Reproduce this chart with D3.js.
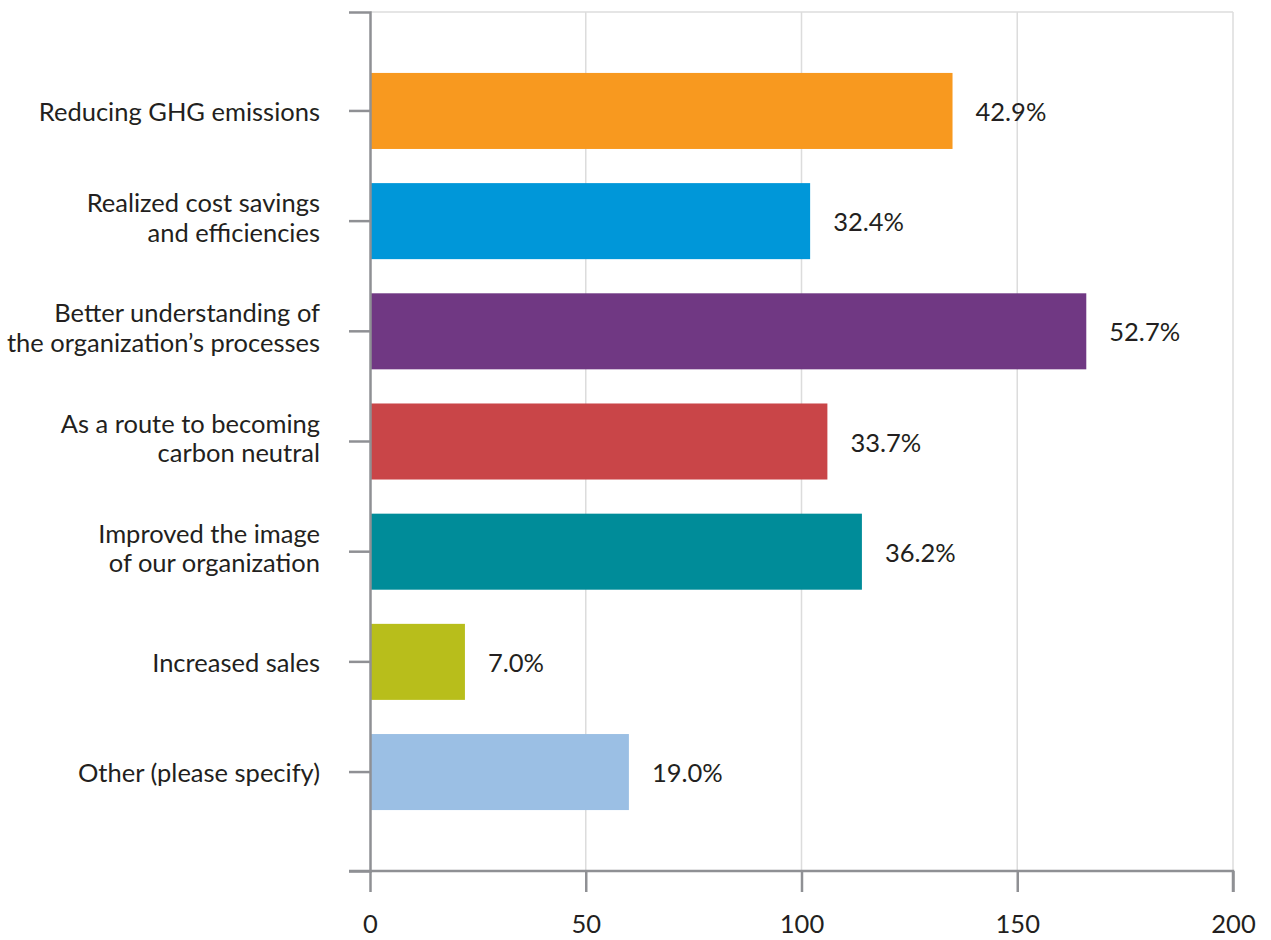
<!DOCTYPE html>
<html>
<head>
<meta charset="utf-8">
<script src="https://cdn.jsdelivr.net/npm/d3@7"></script>
<style>
  html, body { margin: 0; padding: 0; background: #fff; }
  svg { display: block; }
  text { font-family: Lato, "Open Sans", sans-serif; font-weight: 400; fill: #231f20; }
</style>
</head>
<body>
<svg id="chart" width="1271" height="940"></svg>
<script>
// Benefits reported by respondents (count of responses, share of respondents)
const categories = [
  "Reducing GHG emissions",
  "Realized cost savings|and efficiencies",
  "Better understanding of|the organization\u2019s processes",
  "As a route to becoming|carbon neutral",
  "Improved the image|of our organization",
  "Increased sales",
  "Other (please specify)"
];
const counts = [135, 102, 166, 106, 114, 22, 60];
const shares = ["42.9%", "32.4%", "52.7%", "33.7%", "36.2%", "7.0%", "19.0%"];
const barColors = ["#F8991F", "#0097D9", "#703883", "#C94548", "#008C99", "#B8BE1B", "#9BBFE4"];
const xTicks = [0, 50, 100, 150, 200];

const svg = d3.select("#chart");
const plotL = 370, plotR = 1233, plotT = 12, plotB = 871;
const fs = 25.5;

const x = d3.scaleLinear().domain([0, 200]).range([plotL, plotR]);
const y = d3.scaleBand().domain(categories).range([plotT, plotB])
  .paddingInner(0.31).paddingOuter(0.553);

// vertical gridlines and top border
const grid = svg.append("g");
grid.selectAll("line.v").data(xTicks.slice(1)).join("line")
  .attr("x1", d => x(d)).attr("x2", d => x(d))
  .attr("y1", plotT).attr("y2", plotB)
  .attr("stroke", "#dcdcdc").attr("stroke-width", 1.5);
grid.append("line")
  .attr("x1", plotL).attr("x2", plotR).attr("y1", plotT).attr("y2", plotT)
  .attr("stroke", "#dcdcdc").attr("stroke-width", 1.5);

// bars
svg.append("g").selectAll("rect").data(categories).join("rect")
  .attr("x", x(0))
  .attr("y", d => y(d))
  .attr("width", (d, i) => x(counts[i]) - x(0))
  .attr("height", y.bandwidth())
  .attr("fill", (d, i) => barColors[i]);

// value labels
svg.append("g").selectAll("text").data(categories).join("text")
  .attr("x", (d, i) => x(counts[i]) + 23)
  .attr("y", d => y(d) + y.bandwidth() / 2 + 10)
  .attr("font-size", fs)
  .text((d, i) => shares[i]);

// x axis
const xAxis = svg.append("g").attr("transform", `translate(0,${plotB})`)
  .call(d3.axisBottom(x).tickValues(xTicks).tickSize(21).tickSizeOuter(21));
xAxis.selectAll("path, line").attr("stroke", "#8f9094").attr("stroke-width", 2.5);
xAxis.select(".domain").attr("d", `M${plotL - 21},0H${plotR}V21`);
xAxis.selectAll("text").attr("y", 62).attr("dy", 0)
  .attr("font-size", fs).attr("fill", "#231f20")
  .style("font-family", "Lato, sans-serif").style("font-weight", 400);

// y axis
const yAxis = svg.append("g").attr("transform", `translate(${plotL},0)`)
  .call(d3.axisLeft(y).tickSize(21).tickSizeOuter(21).tickFormat(""));
yAxis.selectAll("path, line").attr("stroke", "#8f9094").attr("stroke-width", 2.5);

// category labels (two-line where needed)
const lineH = 29.5;
svg.append("g").selectAll("text").data(categories).join("text")
  .attr("text-anchor", "end")
  .attr("font-size", fs)
  .each(function(d) {
    const lines = d.split("|");
    const cy = y(d) + y.bandwidth() / 2;
    const first = lines.length > 1 ? cy - 9 : cy + 10;
    d3.select(this).selectAll("tspan").data(lines).join("tspan")
      .attr("x", 320)
      .attr("y", (t, k) => first + k * lineH)
      .text(t => t);
  });
</script>
</body>
</html>
